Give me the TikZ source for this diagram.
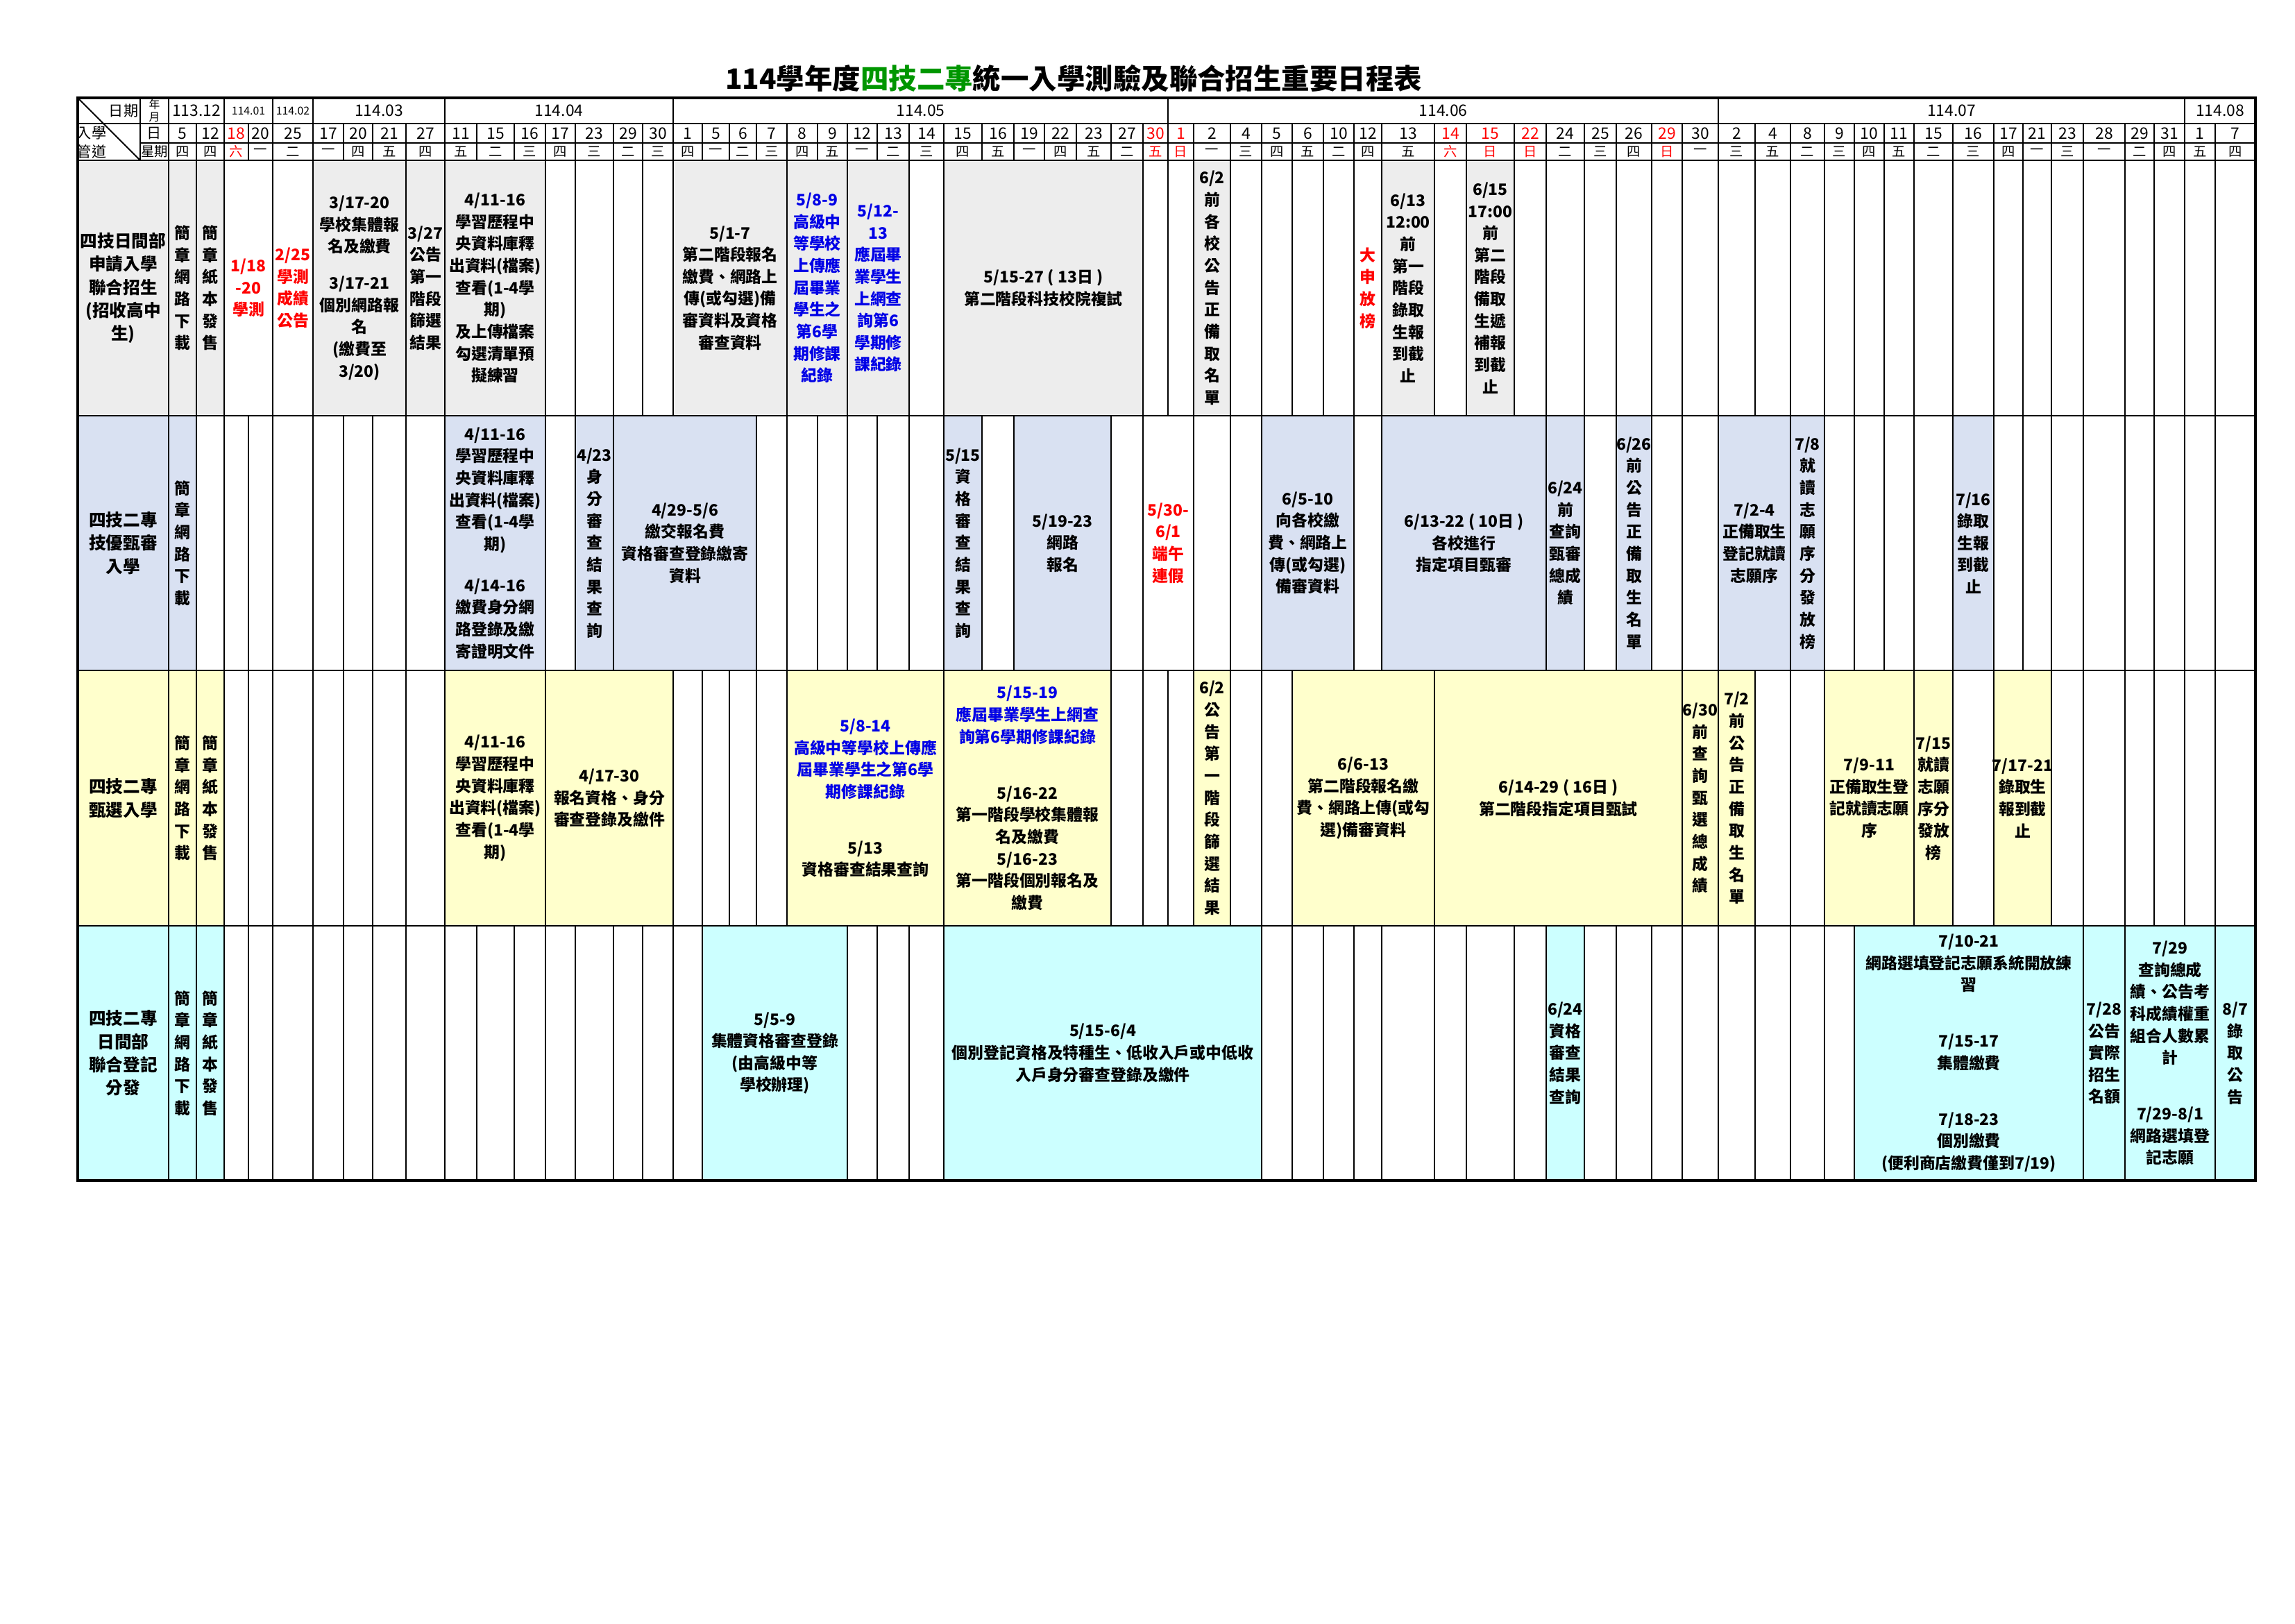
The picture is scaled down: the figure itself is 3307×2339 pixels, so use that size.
\documentclass[tikz,border=0pt]{standalone}
\usepackage{fontspec}
\setmainfont{Noto Sans CJK TC}
\definecolor{graybg}{RGB}{237,237,237}
\definecolor{bluebg}{RGB}{217,225,242}
\definecolor{yellowbg}{RGB}{255,255,204}
\definecolor{cyanbg}{RGB}{204,255,255}
\definecolor{bluetext}{RGB}{0,0,230}
\definecolor{redtext}{RGB}{255,0,0}
\definecolor{greentext}{RGB}{0,150,0}

\tikzset{
  gridline/.style={line width=0.6pt},
  cellbox/.style={draw=black, line width=0.6pt},
  celltext/.style={align=center, inner sep=0pt, font=\fontsize{6.5}{9}\selectfont\bfseries},
  headtext/.style={inner sep=0pt, align=center, font=\fontsize{6.5}{7}\selectfont},
}

% column boundaries (px) of the 64 date columns
\def\bndlist{243,283,323,358,393,451,495,537,585,641,687,741,786,829,884,926,970,1012,1051,1090,1134,1178,1221,1264,1310,1360,1415,1461,1505,1551,1601,1647,1683,1720,1773,1818,1862,1907,1951,1991,2067,2113,2182,2228,2283,2329,2380,2424,2476,2529,2580,2629,2672,2715,2758,2814,2873,2915,2956,3002,3062,3104,3148,3192,3250}

% first column, last column, top, bottom, fill, text
\newcommand\cell[6]{%
  \pgfmathsetmacro\xl{{\bndlist}[#1-1]}%
  \pgfmathsetmacro\xr{{\bndlist}[#2]}%
  \path[cellbox, fill=#5] (\xl,#3) rectangle (\xr,#4);
  \node[celltext] (c#3x#1) at ({(\xl+\xr)/2},{(#3+#4)/2}) {#6};}
\newcommand\labelcell[4]{%
  \path[cellbox, fill=#3] (112,#1) rectangle (243,#2);
  \node[celltext, font=\fontsize{7}{9.5}\selectfont\bfseries] (l#1) at (177.5,{(#1+#2)/2}) {#4};}

\begin{document}
\begin{tikzpicture}[x=0.01cm, y=-0.01cm]
\useasboundingbox (0,0) rectangle (3307,2339);

\node[font=\fontsize{11.5}{12}\selectfont\bfseries] (title) at (1547,113)
  {114學年度{\color{greentext}四技二專}統一入學測驗及聯合招生重要日程表};

% header
\draw[gridline] (112,178) -- (3250,178) (202,206) -- (3250,206) (112,231) -- (3250,231);
\draw[gridline] (202,141) -- (202,231) (243,141) -- (243,231);
\draw[gridline] (112,141) -- (202,231);
\node[headtext, font=\fontsize{6}{7}\selectfont] (hdate) at (178,160) {日期};
\node[headtext, font=\fontsize{6}{7}\selectfont] (hin) at (132,192) {入學};
\node[headtext, font=\fontsize{6}{7}\selectfont] (hway) at (132,218) {管道};
\node[headtext, font=\fontsize{4.5}{5}\selectfont] (hym) at (222.5,159.5) {年\\月};
\node[headtext, font=\fontsize{6}{7}\selectfont] (hday) at (222.5,192) {日};
\node[headtext, font=\fontsize{5.5}{7}\selectfont] (hweek) at (222.5,218.5) {星期};
\foreach \a/\b/\m/\f in {0/2/113.12/6.5, 2/4/114.01/4.5, 4/5/114.02/4.5, 5/9/114.03/6.5,
    9/16/114.04/6.5, 16/32/114.05/6.5, 32/48/114.06/6.5, 48/62/114.07/6.5, 62/64/114.08/6.5} {
  \pgfmathsetmacro\xl{{\bndlist}[\a]}
  \pgfmathsetmacro\xr{{\bndlist}[\b]}
  \draw[gridline] (\xr,141) -- (\xr,178);
  \node[headtext, font=\fontsize{\f}{\f}\selectfont] (m\a) at ({(\xl+\xr)/2},159.5) {\m};
}
\foreach \d/\w/\c [count=\i] in {5/四/black,12/四/black,18/六/redtext,20/一/black,25/二/black,
    17/一/black,20/四/black,21/五/black,27/四/black,11/五/black,15/二/black,16/三/black,
    17/四/black,23/三/black,29/二/black,30/三/black,1/四/black,5/一/black,6/二/black,
    7/三/black,8/四/black,9/五/black,12/一/black,13/二/black,14/三/black,15/四/black,
    16/五/black,19/一/black,22/四/black,23/五/black,27/二/black,30/五/redtext,1/日/redtext,
    2/一/black,4/三/black,5/四/black,6/五/black,10/二/black,12/四/black,13/五/black,
    14/六/redtext,15/日/redtext,22/日/redtext,24/二/black,25/三/black,26/四/black,
    29/日/redtext,30/一/black,2/三/black,4/五/black,8/二/black,9/三/black,10/四/black,
    11/五/black,15/二/black,16/三/black,17/四/black,21/一/black,23/三/black,28/一/black,
    29/二/black,31/四/black,1/五/black,7/四/black} {
  \pgfmathsetmacro\xl{{\bndlist}[\i-1]}
  \pgfmathsetmacro\xr{{\bndlist}[\i]}
  \draw[gridline] (\xr,178) -- (\xr,231);
  \node[headtext, text=\c] (d\i) at ({(\xl+\xr)/2},192) {\d};
  \node[headtext, text=\c, font=\fontsize{5.5}{6}\selectfont] (w\i) at ({(\xl+\xr)/2},218.5) {\w};
}

% body grid
\foreach \xx in \bndlist
  \draw[gridline] (\xx,231) -- (\xx,1701);
\draw[gridline] (112,599) -- (3250,599) (112,966) -- (3250,966) (112,1334) -- (3250,1334);

% row A
\labelcell{231}{599}{graybg}{四技日間部\\申請入學\\聯合招生\\(招收高中\\生)}
\cell{1}{1}{231}{599}{graybg}{簡\\章\\網\\路\\下\\載}
\cell{2}{2}{231}{599}{graybg}{簡\\章\\紙\\本\\發\\售}
\cell{3}{4}{231}{599}{white}{\color{redtext}1/18\\\color{redtext}-20\\\color{redtext}學測}
\cell{5}{5}{231}{599}{white}{\color{redtext}2/25\\\color{redtext}學測\\\color{redtext}成績\\\color{redtext}公告}
\cell{6}{8}{231}{599}{graybg}{3/17-20\\學校集體報\\名及繳費\\[6pt]3/17-21\\個別網路報\\名\\(繳費至\\3/20)}
\cell{9}{9}{231}{599}{graybg}{3/27\\公告\\第一\\階段\\篩選\\結果}
\cell{10}{12}{231}{599}{graybg}{4/11-16\\學習歷程中\\央資料庫釋\\出資料(檔案)\\查看(1-4學\\期)\\及上傳檔案\\勾選清單預\\擬練習}
\cell{17}{20}{231}{599}{graybg}{5/1-7\\第二階段報名\\繳費、網路上\\傳(或勾選)備\\審資料及資格\\審查資料}
\cell{21}{22}{231}{599}{graybg}{\color{bluetext}5/8-9\\\color{bluetext}高級中\\\color{bluetext}等學校\\\color{bluetext}上傳應\\\color{bluetext}屆畢業\\\color{bluetext}學生之\\\color{bluetext}第6學\\\color{bluetext}期修課\\\color{bluetext}紀錄}
\cell{23}{24}{231}{599}{graybg}{\color{bluetext}5/12-\\\color{bluetext}13\\\color{bluetext}應屆畢\\\color{bluetext}業學生\\\color{bluetext}上網查\\\color{bluetext}詢第6\\\color{bluetext}學期修\\\color{bluetext}課紀錄}
\cell{26}{31}{231}{599}{graybg}{5/15-27 ( 13日 )\\第二階段科技校院複試}
\cell{34}{34}{231}{599}{graybg}{6/2\\前\\各\\校\\公\\告\\正\\備\\取\\名\\單}
\cell{39}{39}{231}{599}{white}{\color{redtext}大\\\color{redtext}申\\\color{redtext}放\\\color{redtext}榜}
\cell{40}{40}{231}{599}{graybg}{6/13\\12:00\\前\\第一\\階段\\錄取\\生報\\到截\\止}
\cell{42}{42}{231}{599}{graybg}{6/15\\17:00\\前\\第二\\階段\\備取\\生遞\\補報\\到截\\止}

% row B
\labelcell{599}{966}{bluebg}{四技二專\\技優甄審\\入學}
\cell{1}{1}{599}{966}{bluebg}{簡\\章\\網\\路\\下\\載}
\cell{10}{12}{599}{966}{bluebg}{4/11-16\\學習歷程中\\央資料庫釋\\出資料(檔案)\\查看(1-4學\\期)\\[8pt]4/14-16\\繳費身分網\\路登錄及繳\\寄證明文件}
\cell{14}{14}{599}{966}{bluebg}{4/23\\身\\分\\審\\查\\結\\果\\查\\詢}
\cell{15}{19}{599}{966}{bluebg}{4/29-5/6\\繳交報名費\\資格審查登錄繳寄\\資料}
\cell{26}{26}{599}{966}{bluebg}{5/15\\資\\格\\審\\查\\結\\果\\查\\詢}
\cell{28}{30}{599}{966}{bluebg}{5/19-23\\網路\\報名}
\cell{32}{33}{599}{966}{white}{\color{redtext}5/30-\\\color{redtext}6/1\\\color{redtext}端午\\\color{redtext}連假}
\cell{36}{38}{599}{966}{bluebg}{6/5-10\\向各校繳\\費、網路上\\傳(或勾選)\\備審資料}
\cell{40}{43}{599}{966}{bluebg}{6/13-22 ( 10日 )\\各校進行\\指定項目甄審}
\cell{44}{44}{599}{966}{bluebg}{6/24\\前\\查詢\\甄審\\總成\\績}
\cell{46}{46}{599}{966}{bluebg}{6/26\\前\\公\\告\\正\\備\\取\\生\\名\\單}
\cell{49}{50}{599}{966}{bluebg}{7/2-4\\正備取生\\登記就讀\\志願序}
\cell{51}{51}{599}{966}{bluebg}{7/8\\就\\讀\\志\\願\\序\\分\\發\\放\\榜}
\cell{56}{56}{599}{966}{bluebg}{7/16\\錄取\\生報\\到截\\止}

% row C
\labelcell{966}{1334}{yellowbg}{四技二專\\甄選入學}
\cell{1}{1}{966}{1334}{yellowbg}{簡\\章\\網\\路\\下\\載}
\cell{2}{2}{966}{1334}{yellowbg}{簡\\章\\紙\\本\\發\\售}
\cell{10}{12}{966}{1334}{yellowbg}{4/11-16\\學習歷程中\\央資料庫釋\\出資料(檔案)\\查看(1-4學\\期)}
\cell{13}{16}{966}{1334}{yellowbg}{4/17-30\\報名資格、身分\\審查登錄及繳件}
\cell{21}{25}{966}{1334}{yellowbg}{\color{bluetext}5/8-14\\\color{bluetext}高級中等學校上傳應\\\color{bluetext}屆畢業學生之第6學\\\color{bluetext}期修課紀錄\\[14pt]5/13\\資格審查結果查詢}
\cell{26}{30}{966}{1334}{yellowbg}{\color{bluetext}5/15-19\\\color{bluetext}應屆畢業學生上網查\\\color{bluetext}詢第6學期修課紀錄\\[14pt]5/16-22\\第一階段學校集體報\\名及繳費\\5/16-23\\第一階段個別報名及\\繳費}
\cell{34}{34}{966}{1334}{yellowbg}{6/2\\公\\告\\第\\一\\階\\段\\篩\\選\\結\\果}
\cell{37}{40}{966}{1334}{yellowbg}{6/6-13\\第二階段報名繳\\費、網路上傳(或勾\\選)備審資料}
\cell{41}{47}{966}{1334}{yellowbg}{6/14-29 ( 16日 )\\第二階段指定項目甄試}
\cell{48}{48}{966}{1334}{yellowbg}{6/30\\前\\查\\詢\\甄\\選\\總\\成\\績}
\cell{49}{49}{966}{1334}{yellowbg}{7/2\\前\\公\\告\\正\\備\\取\\生\\名\\單}
\cell{52}{54}{966}{1334}{yellowbg}{7/9-11\\正備取生登\\記就讀志願\\序}
\cell{55}{55}{966}{1334}{yellowbg}{7/15\\就讀\\志願\\序分\\發放\\榜}
\cell{57}{58}{966}{1334}{yellowbg}{7/17-21\\錄取生\\報到截\\止}

% row D
\labelcell{1334}{1701}{cyanbg}{四技二專\\日間部\\聯合登記\\分發}
\cell{1}{1}{1334}{1701}{cyanbg}{簡\\章\\網\\路\\下\\載}
\cell{2}{2}{1334}{1701}{cyanbg}{簡\\章\\紙\\本\\發\\售}
\cell{18}{22}{1334}{1701}{cyanbg}{5/5-9\\集體資格審查登錄\\(由高級中等\\學校辦理)}
\cell{26}{35}{1334}{1701}{cyanbg}{5/15-6/4\\個別登記資格及特種生、低收入戶或中低收\\入戶身分審查登錄及繳件}
\cell{44}{44}{1334}{1701}{cyanbg}{6/24\\資格\\審查\\結果\\查詢}
\cell{53}{59}{1334}{1701}{cyanbg}{7/10-21\\網路選填登記志願系統開放練\\習\\[14pt]7/15-17\\集體繳費\\[14pt]7/18-23\\個別繳費\\(便利商店繳費僅到7/19)}
\cell{60}{60}{1334}{1701}{cyanbg}{7/28\\公告\\實際\\招生\\名額}
\cell{61}{63}{1334}{1701}{cyanbg}{7/29\\查詢總成\\績、公告考\\科成績權重\\組合人數累\\計\\[14pt]7/29-8/1\\網路選填登\\記志願}
\cell{64}{64}{1334}{1701}{cyanbg}{8/7\\錄\\取\\公\\告}

% outer frame
\draw[line width=1.3pt] (112,141) rectangle (3250,1701);
\end{tikzpicture}
\end{document}
